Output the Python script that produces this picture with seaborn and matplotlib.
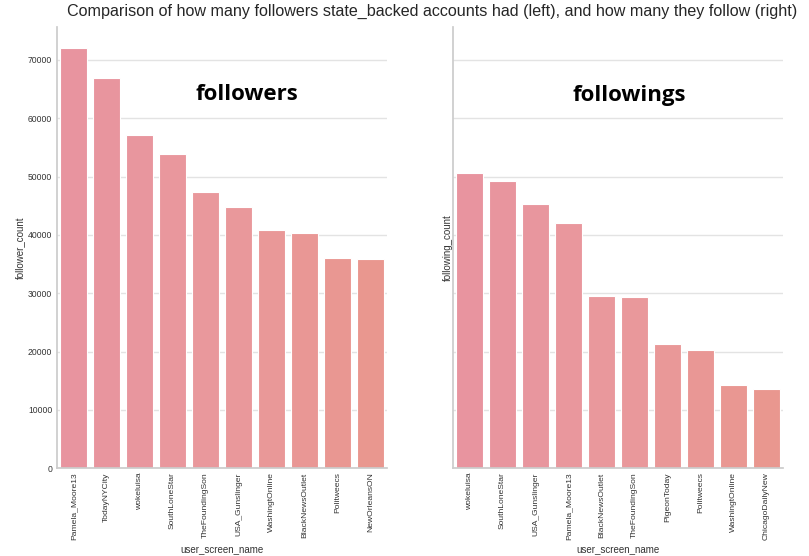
import matplotlib
matplotlib.use("Agg")
import matplotlib.pyplot as plt
import pandas as pd
import seaborn as sns

# top 10 state-backed accounts by follower count
follower_names = ["Pamela_Moore13", "TodayNYCity", "wokeluisa", "SouthLoneStar",
                  "TheFoundingSon", "USA_Gunslinger", "WashingtOnline",
                  "BlackNewsOutlet", "Politweecs", "NewOrleansON"]
follower_count = [72050, 66850, 57150, 53900, 47350, 44850, 40750, 40400, 36100, 35900]

# top 10 by following count
following_names = ["wokeluisa", "SouthLoneStar", "USA_Gunslinger", "Pamela_Moore13",
                   "BlackNewsOutlet", "TheFoundingSon", "PigeonToday", "Politweecs",
                   "WashingtOnline", "ChicagoDailyNew"]
following_count = [50650, 49200, 45350, 42100, 29550, 29400, 21300, 20250, 14300, 13650]

df_followers = pd.DataFrame({"user_screen_name": follower_names,
                             "follower_count": follower_count})
df_following = pd.DataFrame({"user_screen_name": following_names,
                             "following_count": following_count})

sns.set_theme(style="whitegrid")
plt.rcParams["font.family"] = ["Liberation Sans", "DejaVu Sans"]
plt.rcParams["axes.edgecolor"] = "#cccccc"
plt.rcParams["grid.color"] = "#e3e3e3"

colors = sns.blend_palette(["#e8949f", "#e9989c", "#e9978f"], 10)

fig = plt.figure(figsize=(8.09, 5.56), dpi=100)
ax1 = fig.add_axes([0.0705, 0.158, 0.408, 0.793])
ax2 = fig.add_axes([0.56, 0.158, 0.408, 0.793], sharey=ax1)

sns.barplot(data=df_followers, x="user_screen_name", y="follower_count",
            hue="user_screen_name", palette=colors, legend=False,
            saturation=1, edgecolor="white", linewidth=0.8, ax=ax1)
sns.barplot(data=df_following, x="user_screen_name", y="following_count",
            hue="user_screen_name", palette=colors, legend=False,
            saturation=1, edgecolor="white", linewidth=0.8, ax=ax2)

for ax in (ax1, ax2):
    ax.tick_params(axis="x", labelrotation=90, labelsize=6.1, colors="#333333",
                   length=0, pad=3)
    ax.tick_params(axis="y", labelsize=6.2, colors="#333333", length=0, pad=3.5)
    ax.xaxis.label.set_size(7)
    ax.yaxis.label.set_size(7)
    ax.xaxis.labelpad = 3
    ax.xaxis.label.set_color("#333333")
    ax.yaxis.label.set_color("#333333")
    ax.set_xlim(-0.5, 9.5)
    sns.despine(ax=ax)

ax1.yaxis.labelpad = 2
ax2.yaxis.labelpad = 0
ax1.set_ylim(0, 75600)
ax2.tick_params(axis="y", labelleft=False)

fig.suptitle("Comparison of how many followers state_backed accounts had (left), "
             "and how many they follow (right)",
             x=0.534, y=0.993, fontsize=11.6, color="#262626")

fig.text(0.305, 0.83, "followers", family=["Open Sans", "DejaVu Sans"],
         fontsize=16, fontweight="bold", ha="center", va="center", color="black")
fig.text(0.778, 0.828, "followings", family=["Open Sans", "DejaVu Sans"],
         fontsize=16, fontweight="bold", ha="center", va="center", color="black")

fig.savefig("out.png", dpi=100)
